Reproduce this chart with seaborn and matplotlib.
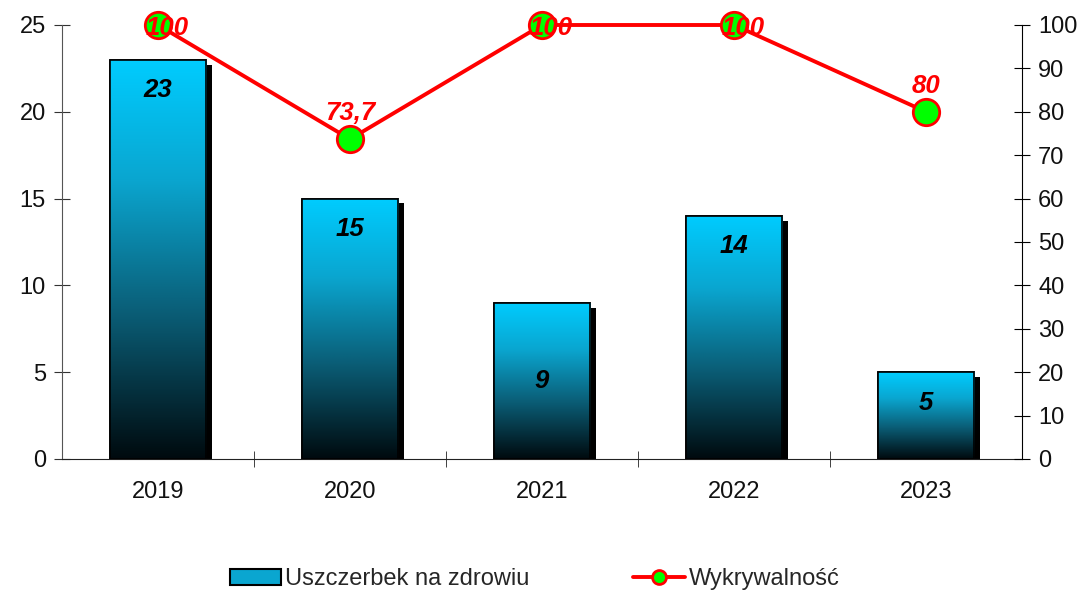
import numpy as np
import matplotlib.pyplot as plt
import matplotlib.patheffects as pe
from matplotlib.colors import LinearSegmentedColormap
from matplotlib.patches import Rectangle
from matplotlib.lines import Line2D
import seaborn as sns

# dane
years = ['2019', '2020', '2021', '2022', '2023']
injuries = [23, 15, 9, 14, 5]
detection = [100, 73.7, 100, 100, 80]
detection_labels = ['100', '73,7', '100', '100', '80']
bar_label_at = ['end', 'end', 'center', 'end', 'end']

sns.set_style('white')
plt.rcParams['font.family'] = ['Liberation Sans', 'DejaVu Sans']

fig = plt.figure(figsize=(10.91, 5.91), dpi=100)
ax = fig.add_axes([0.0568, 0.2234, 0.88, 0.7343])

sns.barplot(x=years, y=injuries, ax=ax, width=0.5, color='black',
            edgecolor='black', linewidth=1.2, zorder=2)

# gradient w slupkach (cyan -> czarny)
cmap = LinearSegmentedColormap.from_list(
    'bar', [(0.0, '#000a0e'), (0.35, '#0a5a72'), (0.7, '#0aa6d0'), (1.0, '#00ccff')])
grad = np.linspace(0, 1, 256).reshape(-1, 1)
for bar in ax.patches:
    x0, w, h = bar.get_x(), bar.get_width(), bar.get_height()
    bar.set_path_effects([pe.SimplePatchShadow(offset=(4.5, -3.5), shadow_rgbFace='black', alpha=1.0),
                          pe.Normal()])
    im = ax.imshow(grad, cmap=cmap, origin='lower', aspect='auto',
                   extent=(x0, x0 + w, 0, h), zorder=2.5)
    im.set_clip_path(bar)
    ax.add_patch(Rectangle((x0, 0), w, h, fill=False, edgecolor='black', linewidth=1.2, zorder=3))

for i, v in enumerate(injuries):
    y = v / 2 if bar_label_at[i] == 'center' else v - 1.75
    ax.text(i, y, str(v), ha='center', va='center', fontsize=18.5,
            fontweight='bold', fontstyle='italic', color='black', zorder=4)

ax.set_xlim(-0.5, len(years) - 0.5)
ax.set_ylim(0, 25)
ax.set_yticks(range(0, 26, 5))
ax.set_xticks(range(len(years)))
ax.set_xticklabels(years)
ax.set_xticks(np.arange(0.5, len(years) - 1, 1), minor=True)
ax.tick_params(axis='x', which='major', length=0, labelsize=17, pad=16, colors='#111111')
ax.tick_params(axis='x', which='minor', direction='inout', length=11, bottom=True, color='#222222')
ax.tick_params(axis='y', direction='inout', length=11, labelsize=17, left=True, color='#333333',
               labelcolor='#111111', pad=6)
ax.set_xlabel('')
for s in ['top', 'right']:
    ax.spines[s].set_visible(False)
ax.spines['left'].set_color('#555555')
ax.spines['bottom'].set_color('#222222')

# druga os - wykrywalnosc
ax2 = ax.twinx()
sns.lineplot(x=np.arange(len(years)), y=detection, ax=ax2, color='red', linewidth=2.8,
             marker='o', markersize=19, markerfacecolor='#00ff00', markeredgecolor='red',
             markeredgewidth=2, clip_on=False, zorder=5)
ax2.set_ylim(0, 100)
ax2.set_yticks(range(0, 101, 10))
ax2.tick_params(axis='y', direction='inout', length=11, labelsize=17, right=True, color='black',
                labelcolor='#111111', pad=6)
ax2.set_xlim(-0.5, len(years) - 0.5)
for s in ['top', 'left', 'bottom']:
    ax2.spines[s].set_visible(False)
ax2.spines['right'].set_color('black')

for i, (v, lab) in enumerate(zip(detection, detection_labels)):
    y = min(v + 6.0, 99.3)
    dx = 0.05 if y < v + 6.0 else 0
    ax2.text(i + dx, y, lab, ha='center', va='center', fontsize=18.5, fontweight='bold',
             fontstyle='italic', color='red', zorder=6, clip_on=False)

# legenda
handles = [Rectangle((0, 0), 1, 1, facecolor='#0aa6d0', edgecolor='black', linewidth=1.5),
           Line2D([], [], color='red', linewidth=2.8, marker='o', markersize=10,
                  markerfacecolor='#00ff00', markeredgecolor='red', markeredgewidth=2)]
fig.legend(handles, ['Uszczerbek na zdrowiu', 'Wykrywalność'], loc='lower center',
           bbox_to_anchor=(0.49, -0.035), ncol=2, frameon=False, fontsize=17,
           handlelength=2.2, handletextpad=0.15, columnspacing=4.4, handleheight=0.7)

fig.savefig('out.png', dpi=100)
